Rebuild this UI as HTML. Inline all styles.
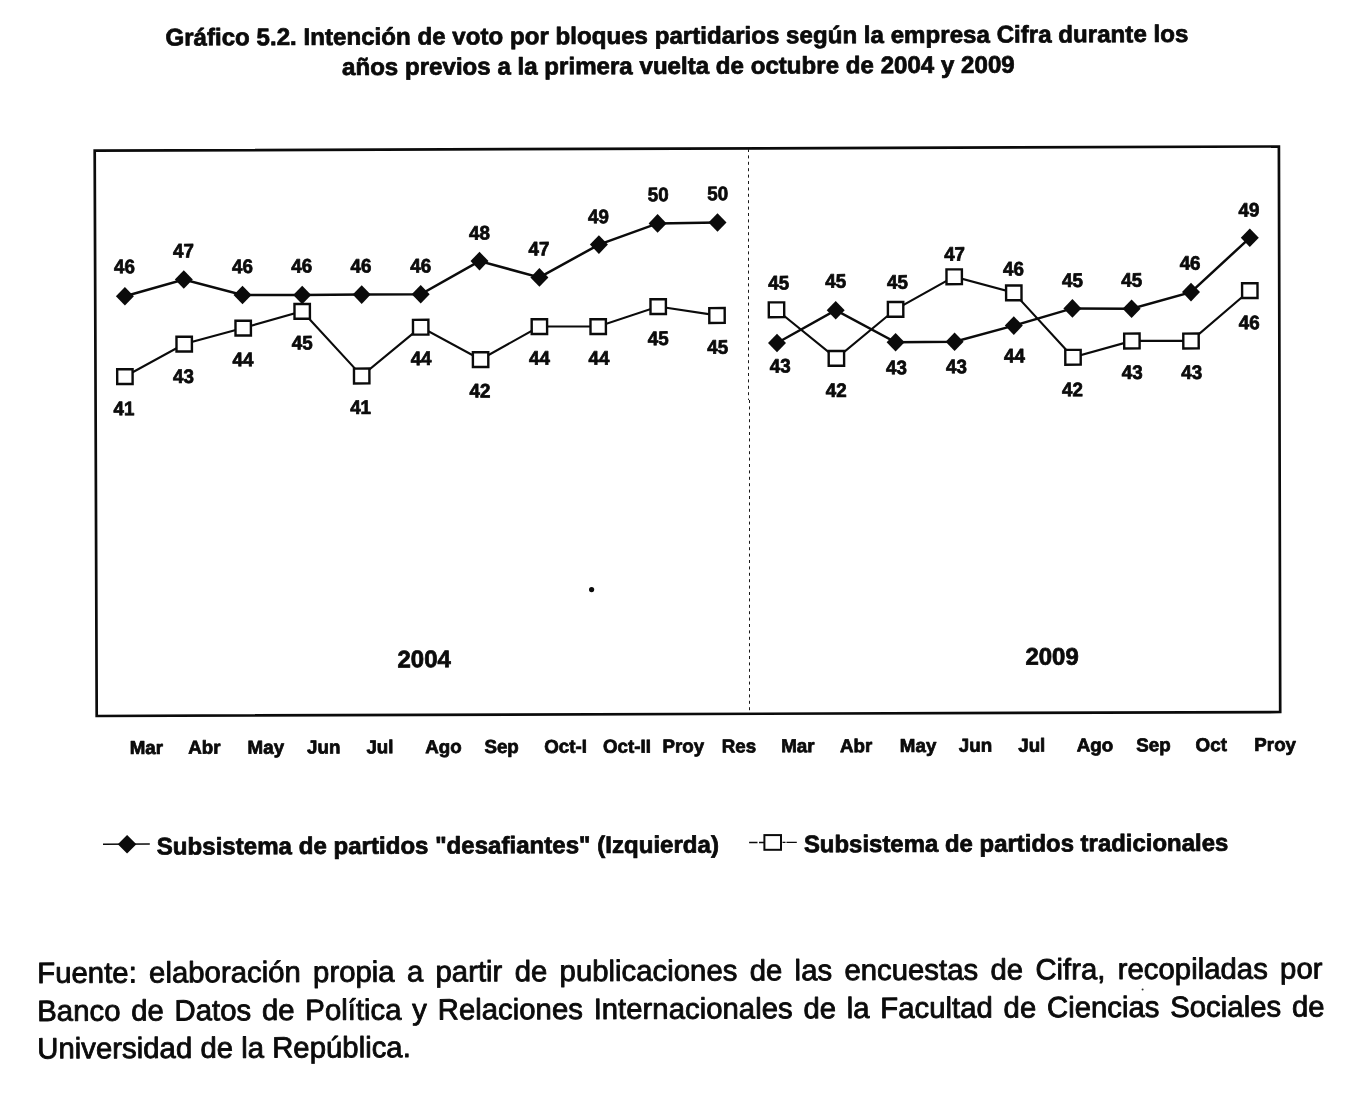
<!DOCTYPE html>
<html lang="es"><head><meta charset="utf-8"><title>Gráfico 5.2</title>
<style>
html,body{margin:0;padding:0;background:#fff}
svg{display:block}
text{font-family:"Liberation Sans",Arial,Helvetica,sans-serif;fill:#0b0b0b}
.b{font-weight:bold;stroke:#0b0b0b;stroke-width:0.75px;stroke-linejoin:round}
.t{font-size:24px}.d{font-size:19.6px;text-anchor:middle}.a{font-size:18.8px}.y{font-size:24px;text-anchor:middle}.l{font-size:24px}
.f{font-size:29.35px;stroke:#0b0b0b;stroke-width:0.85px;stroke-linejoin:round}
</style></head><body>
<svg width="1347" height="1106" viewBox="0 0 1347 1106">
<rect width="1347" height="1106" fill="#fff"/>
<text class="b t" x="165.4" y="45.5" transform="rotate(-0.2 165.4 45.5)" textLength="1023" lengthAdjust="spacingAndGlyphs">Gráfico 5.2. Intención de voto por bloques partidarios según la empresa Cifra durante los</text>
<text class="b t" x="342.0" y="75.1" transform="rotate(-0.2 342.0 75.1)" textLength="672.7" lengthAdjust="spacingAndGlyphs">años previos a la primera vuelta de octubre de 2004 y 2009</text>
<polygon points="94.7,150.6 1278.9,146.5 1280.2,712.0 96.7,716.0" fill="none" stroke="#0b0b0b" stroke-width="2.7" stroke-linejoin="miter"/>
<line x1="748.5" y1="149" x2="748.5" y2="400" stroke="#1a1a1a" stroke-width="1" stroke-dasharray="3 3.4"/>
<line x1="749.5" y1="400" x2="749.5" y2="713" stroke="#1a1a1a" stroke-width="1" stroke-dasharray="3 3.4"/>
<polyline points="124.9,376.5 184.2,344.0 243.2,328.0 302.2,311.3 361.7,375.9 420.7,327.1 480.6,359.5 539.4,326.5 598.2,326.5 658.2,306.5 717.0,315.4" fill="none" stroke="#0b0b0b" stroke-width="2.1"/>
<polyline points="776.5,309.7 836.4,358.3 895.6,309.3 954.2,276.7 1013.8,292.8 1073.0,357.2 1131.9,340.9 1191.0,340.9 1249.8,290.5" fill="none" stroke="#0b0b0b" stroke-width="2.1"/>
<polyline points="124.9,296.2 183.8,279.5 242.5,295.0 302.2,295.0 361.7,294.6 420.7,294.3 479.5,261.1 539.4,277.4 598.9,244.6 657.6,223.4 717.5,222.5" fill="none" stroke="#0b0b0b" stroke-width="2.5"/>
<polyline points="777.0,343.0 835.7,310.2 895.6,342.3 954.6,341.8 1013.8,325.6 1072.4,308.4 1131.6,308.7 1191.0,292.1 1249.8,237.8" fill="none" stroke="#0b0b0b" stroke-width="2.5"/>
<rect x="117.2" y="369.2" width="15.4" height="14.8" fill="#fff" stroke="#0b0b0b" stroke-width="2.4" transform="rotate(-0.2 124.9 376.5)"/>
<rect x="176.5" y="336.7" width="15.4" height="14.8" fill="#fff" stroke="#0b0b0b" stroke-width="2.4" transform="rotate(-0.2 184.2 344.0)"/>
<rect x="235.5" y="320.7" width="15.4" height="14.8" fill="#fff" stroke="#0b0b0b" stroke-width="2.4" transform="rotate(-0.2 243.2 328.0)"/>
<rect x="294.5" y="304.0" width="15.4" height="14.8" fill="#fff" stroke="#0b0b0b" stroke-width="2.4" transform="rotate(-0.2 302.2 311.3)"/>
<rect x="354.0" y="368.6" width="15.4" height="14.8" fill="#fff" stroke="#0b0b0b" stroke-width="2.4" transform="rotate(-0.2 361.7 375.9)"/>
<rect x="413.0" y="319.8" width="15.4" height="14.8" fill="#fff" stroke="#0b0b0b" stroke-width="2.4" transform="rotate(-0.2 420.7 327.1)"/>
<rect x="472.9" y="352.2" width="15.4" height="14.8" fill="#fff" stroke="#0b0b0b" stroke-width="2.4" transform="rotate(-0.2 480.6 359.5)"/>
<rect x="531.7" y="319.2" width="15.4" height="14.8" fill="#fff" stroke="#0b0b0b" stroke-width="2.4" transform="rotate(-0.2 539.4 326.5)"/>
<rect x="590.5" y="319.2" width="15.4" height="14.8" fill="#fff" stroke="#0b0b0b" stroke-width="2.4" transform="rotate(-0.2 598.2 326.5)"/>
<rect x="650.5" y="299.2" width="15.4" height="14.8" fill="#fff" stroke="#0b0b0b" stroke-width="2.4" transform="rotate(-0.2 658.2 306.5)"/>
<rect x="709.3" y="308.1" width="15.4" height="14.8" fill="#fff" stroke="#0b0b0b" stroke-width="2.4" transform="rotate(-0.2 717.0 315.4)"/>
<rect x="768.8" y="302.4" width="15.4" height="14.8" fill="#fff" stroke="#0b0b0b" stroke-width="2.4" transform="rotate(-0.2 776.5 309.7)"/>
<rect x="828.7" y="351.0" width="15.4" height="14.8" fill="#fff" stroke="#0b0b0b" stroke-width="2.4" transform="rotate(-0.2 836.4 358.3)"/>
<rect x="887.9" y="302.0" width="15.4" height="14.8" fill="#fff" stroke="#0b0b0b" stroke-width="2.4" transform="rotate(-0.2 895.6 309.3)"/>
<rect x="946.5" y="269.4" width="15.4" height="14.8" fill="#fff" stroke="#0b0b0b" stroke-width="2.4" transform="rotate(-0.2 954.2 276.7)"/>
<rect x="1006.1" y="285.5" width="15.4" height="14.8" fill="#fff" stroke="#0b0b0b" stroke-width="2.4" transform="rotate(-0.2 1013.8 292.8)"/>
<rect x="1065.3" y="349.9" width="15.4" height="14.8" fill="#fff" stroke="#0b0b0b" stroke-width="2.4" transform="rotate(-0.2 1073.0 357.2)"/>
<rect x="1124.2" y="333.6" width="15.4" height="14.8" fill="#fff" stroke="#0b0b0b" stroke-width="2.4" transform="rotate(-0.2 1131.9 340.9)"/>
<rect x="1183.3" y="333.6" width="15.4" height="14.8" fill="#fff" stroke="#0b0b0b" stroke-width="2.4" transform="rotate(-0.2 1191.0 340.9)"/>
<rect x="1242.1" y="283.2" width="15.4" height="14.8" fill="#fff" stroke="#0b0b0b" stroke-width="2.4" transform="rotate(-0.2 1249.8 290.5)"/>
<polygon points="115.9,296.2 124.9,286.9 133.9,296.2 124.9,305.5" fill="#0b0b0b"/>
<polygon points="174.8,279.5 183.8,270.2 192.8,279.5 183.8,288.8" fill="#0b0b0b"/>
<polygon points="233.5,295.0 242.5,285.7 251.5,295.0 242.5,304.3" fill="#0b0b0b"/>
<polygon points="293.2,295.0 302.2,285.7 311.2,295.0 302.2,304.3" fill="#0b0b0b"/>
<polygon points="352.7,294.6 361.7,285.3 370.7,294.6 361.7,303.9" fill="#0b0b0b"/>
<polygon points="411.7,294.3 420.7,285.0 429.7,294.3 420.7,303.6" fill="#0b0b0b"/>
<polygon points="470.5,261.1 479.5,251.8 488.5,261.1 479.5,270.4" fill="#0b0b0b"/>
<polygon points="530.4,277.4 539.4,268.1 548.4,277.4 539.4,286.7" fill="#0b0b0b"/>
<polygon points="589.9,244.6 598.9,235.3 607.9,244.6 598.9,253.9" fill="#0b0b0b"/>
<polygon points="648.6,223.4 657.6,214.1 666.6,223.4 657.6,232.7" fill="#0b0b0b"/>
<polygon points="708.5,222.5 717.5,213.2 726.5,222.5 717.5,231.8" fill="#0b0b0b"/>
<polygon points="768.0,343.0 777.0,333.7 786.0,343.0 777.0,352.3" fill="#0b0b0b"/>
<polygon points="826.7,310.2 835.7,300.9 844.7,310.2 835.7,319.5" fill="#0b0b0b"/>
<polygon points="886.6,342.3 895.6,333.0 904.6,342.3 895.6,351.6" fill="#0b0b0b"/>
<polygon points="945.6,341.8 954.6,332.5 963.6,341.8 954.6,351.1" fill="#0b0b0b"/>
<polygon points="1004.8,325.6 1013.8,316.3 1022.8,325.6 1013.8,334.9" fill="#0b0b0b"/>
<polygon points="1063.4,308.4 1072.4,299.1 1081.4,308.4 1072.4,317.7" fill="#0b0b0b"/>
<polygon points="1122.6,308.7 1131.6,299.4 1140.6,308.7 1131.6,318.0" fill="#0b0b0b"/>
<polygon points="1182.0,292.1 1191.0,282.8 1200.0,292.1 1191.0,301.4" fill="#0b0b0b"/>
<polygon points="1240.8,237.8 1249.8,228.5 1258.8,237.8 1249.8,247.1" fill="#0b0b0b"/>
<text class="b d" x="124.5" y="273.3" transform="rotate(-0.2 124.5 273.3)" textLength="20.9" lengthAdjust="spacingAndGlyphs">46</text>
<text class="b d" x="183.5" y="257.5" transform="rotate(-0.2 183.5 257.5)" textLength="20.9" lengthAdjust="spacingAndGlyphs">47</text>
<text class="b d" x="242.5" y="273.1" transform="rotate(-0.2 242.5 273.1)" textLength="20.9" lengthAdjust="spacingAndGlyphs">46</text>
<text class="b d" x="301.8" y="272.6" transform="rotate(-0.2 301.8 272.6)" textLength="20.9" lengthAdjust="spacingAndGlyphs">46</text>
<text class="b d" x="361.0" y="272.6" transform="rotate(-0.2 361.0 272.6)" textLength="20.9" lengthAdjust="spacingAndGlyphs">46</text>
<text class="b d" x="420.7" y="272.4" transform="rotate(-0.2 420.7 272.4)" textLength="20.9" lengthAdjust="spacingAndGlyphs">46</text>
<text class="b d" x="479.5" y="239.6" transform="rotate(-0.2 479.5 239.6)" textLength="20.9" lengthAdjust="spacingAndGlyphs">48</text>
<text class="b d" x="539.0" y="255.5" transform="rotate(-0.2 539.0 255.5)" textLength="20.9" lengthAdjust="spacingAndGlyphs">47</text>
<text class="b d" x="598.4" y="223.3" transform="rotate(-0.2 598.4 223.3)" textLength="20.9" lengthAdjust="spacingAndGlyphs">49</text>
<text class="b d" x="658.2" y="201.3" transform="rotate(-0.2 658.2 201.3)" textLength="20.9" lengthAdjust="spacingAndGlyphs">50</text>
<text class="b d" x="717.7" y="200.3" transform="rotate(-0.2 717.7 200.3)" textLength="20.9" lengthAdjust="spacingAndGlyphs">50</text>
<text class="b d" x="124.0" y="415.2" transform="rotate(-0.2 124.0 415.2)" textLength="20.9" lengthAdjust="spacingAndGlyphs">41</text>
<text class="b d" x="183.5" y="382.9" transform="rotate(-0.2 183.5 382.9)" textLength="20.9" lengthAdjust="spacingAndGlyphs">43</text>
<text class="b d" x="243.0" y="366.2" transform="rotate(-0.2 243.0 366.2)" textLength="20.9" lengthAdjust="spacingAndGlyphs">44</text>
<text class="b d" x="302.2" y="349.5" transform="rotate(-0.2 302.2 349.5)" textLength="20.9" lengthAdjust="spacingAndGlyphs">45</text>
<text class="b d" x="360.6" y="414.0" transform="rotate(-0.2 360.6 414.0)" textLength="20.9" lengthAdjust="spacingAndGlyphs">41</text>
<text class="b d" x="421.1" y="365.1" transform="rotate(-0.2 421.1 365.1)" textLength="20.9" lengthAdjust="spacingAndGlyphs">44</text>
<text class="b d" x="479.9" y="397.4" transform="rotate(-0.2 479.9 397.4)" textLength="20.9" lengthAdjust="spacingAndGlyphs">42</text>
<text class="b d" x="539.4" y="364.7" transform="rotate(-0.2 539.4 364.7)" textLength="20.9" lengthAdjust="spacingAndGlyphs">44</text>
<text class="b d" x="598.9" y="364.7" transform="rotate(-0.2 598.9 364.7)" textLength="20.9" lengthAdjust="spacingAndGlyphs">44</text>
<text class="b d" x="658.2" y="345.1" transform="rotate(-0.2 658.2 345.1)" textLength="20.9" lengthAdjust="spacingAndGlyphs">45</text>
<text class="b d" x="717.7" y="353.8" transform="rotate(-0.2 717.7 353.8)" textLength="20.9" lengthAdjust="spacingAndGlyphs">45</text>
<text class="b d" x="778.8" y="289.4" transform="rotate(-0.2 778.8 289.4)" textLength="20.9" lengthAdjust="spacingAndGlyphs">45</text>
<text class="b d" x="780.3" y="372.6" transform="rotate(-0.2 780.3 372.6)" textLength="20.9" lengthAdjust="spacingAndGlyphs">43</text>
<text class="b d" x="835.7" y="287.8" transform="rotate(-0.2 835.7 287.8)" textLength="20.9" lengthAdjust="spacingAndGlyphs">45</text>
<text class="b d" x="836.2" y="397.0" transform="rotate(-0.2 836.2 397.0)" textLength="20.9" lengthAdjust="spacingAndGlyphs">42</text>
<text class="b d" x="897.4" y="288.7" transform="rotate(-0.2 897.4 288.7)" textLength="20.9" lengthAdjust="spacingAndGlyphs">45</text>
<text class="b d" x="896.4" y="374.2" transform="rotate(-0.2 896.4 374.2)" textLength="20.9" lengthAdjust="spacingAndGlyphs">43</text>
<text class="b d" x="954.6" y="260.7" transform="rotate(-0.2 954.6 260.7)" textLength="20.9" lengthAdjust="spacingAndGlyphs">47</text>
<text class="b d" x="956.4" y="373.2" transform="rotate(-0.2 956.4 373.2)" textLength="20.9" lengthAdjust="spacingAndGlyphs">43</text>
<text class="b d" x="1013.4" y="275.4" transform="rotate(-0.2 1013.4 275.4)" textLength="20.9" lengthAdjust="spacingAndGlyphs">46</text>
<text class="b d" x="1014.5" y="362.4" transform="rotate(-0.2 1014.5 362.4)" textLength="20.9" lengthAdjust="spacingAndGlyphs">44</text>
<text class="b d" x="1072.5" y="286.9" transform="rotate(-0.2 1072.5 286.9)" textLength="20.9" lengthAdjust="spacingAndGlyphs">45</text>
<text class="b d" x="1072.5" y="396.3" transform="rotate(-0.2 1072.5 396.3)" textLength="20.9" lengthAdjust="spacingAndGlyphs">42</text>
<text class="b d" x="1131.7" y="286.7" transform="rotate(-0.2 1131.7 286.7)" textLength="20.9" lengthAdjust="spacingAndGlyphs">45</text>
<text class="b d" x="1132.3" y="378.9" transform="rotate(-0.2 1132.3 378.9)" textLength="20.9" lengthAdjust="spacingAndGlyphs">43</text>
<text class="b d" x="1190.1" y="269.7" transform="rotate(-0.2 1190.1 269.7)" textLength="20.9" lengthAdjust="spacingAndGlyphs">46</text>
<text class="b d" x="1191.7" y="378.9" transform="rotate(-0.2 1191.7 378.9)" textLength="20.9" lengthAdjust="spacingAndGlyphs">43</text>
<text class="b d" x="1248.9" y="216.6" transform="rotate(-0.2 1248.9 216.6)" textLength="20.9" lengthAdjust="spacingAndGlyphs">49</text>
<text class="b d" x="1249.3" y="329.2" transform="rotate(-0.2 1249.3 329.2)" textLength="20.9" lengthAdjust="spacingAndGlyphs">46</text>
<text class="b a" x="129.7" y="754.0" transform="rotate(-0.2 129.7 754.0)">Mar</text>
<text class="b a" x="188.2" y="753.8" transform="rotate(-0.2 188.2 753.8)">Abr</text>
<text class="b a" x="247.6" y="753.7" transform="rotate(-0.2 247.6 753.7)">May</text>
<text class="b a" x="307.0" y="753.5" transform="rotate(-0.2 307.0 753.5)">Jun</text>
<text class="b a" x="366.4" y="753.4" transform="rotate(-0.2 366.4 753.4)">Jul</text>
<text class="b a" x="425.2" y="753.2" transform="rotate(-0.2 425.2 753.2)">Ago</text>
<text class="b a" x="484.4" y="753.1" transform="rotate(-0.2 484.4 753.1)">Sep</text>
<text class="b a" x="544.2" y="752.9" transform="rotate(-0.2 544.2 752.9)">Oct-I</text>
<text class="b a" x="603.0" y="752.8" transform="rotate(-0.2 603.0 752.8)">Oct-II</text>
<text class="b a" x="662.4" y="752.6" transform="rotate(-0.2 662.4 752.6)">Proy</text>
<text class="b a" x="721.8" y="752.5" transform="rotate(-0.2 721.8 752.5)">Res</text>
<text class="b a" x="781.2" y="752.3" transform="rotate(-0.2 781.2 752.3)">Mar</text>
<text class="b a" x="840.0" y="752.2" transform="rotate(-0.2 840.0 752.2)">Abr</text>
<text class="b a" x="899.8" y="752.0" transform="rotate(-0.2 899.8 752.0)">May</text>
<text class="b a" x="958.8" y="751.8" transform="rotate(-0.2 958.8 751.8)">Jun</text>
<text class="b a" x="1018.2" y="751.7" transform="rotate(-0.2 1018.2 751.7)">Jul</text>
<text class="b a" x="1076.8" y="751.5" transform="rotate(-0.2 1076.8 751.5)">Ago</text>
<text class="b a" x="1136.2" y="751.4" transform="rotate(-0.2 1136.2 751.4)">Sep</text>
<text class="b a" x="1195.6" y="751.2" transform="rotate(-0.2 1195.6 751.2)">Oct</text>
<text class="b a" x="1254.3" y="751.1" transform="rotate(-0.2 1254.3 751.1)">Proy</text>
<text class="b y" x="424.2" y="667.3" transform="rotate(-0.2 424.2 667.3)">2004</text>
<text class="b y" x="1052.1" y="664.7" transform="rotate(-0.2 1052.1 664.7)">2009</text>
<circle cx="591.6" cy="589.6" r="2.6" fill="#0b0b0b"/>
<line x1="103" y1="844.2" x2="149.8" y2="844.0" stroke="#0b0b0b" stroke-width="1.6"/>
<polygon points="117.8,844.2 127.1,835.0 136.4,844.2 127.1,853.5" fill="#0b0b0b"/>
<text class="b l" x="156.8" y="854.6" transform="rotate(-0.2 156.8 854.6)" textLength="562.2" lengthAdjust="spacingAndGlyphs">Subsistema de partidos "desafiantes" (Izquierda)</text>
<path d="M749.1 842.5H757.5M759 842.5H764M782.5 842.3H785.5M786.5 842.3H796.8" fill="none" stroke="#0b0b0b" stroke-width="1.3"/>
<rect x="764.4" y="835.1" width="16.6" height="14.7" fill="#fff" stroke="#0b0b0b" stroke-width="2"/>
<text class="b l" x="803.9" y="852.3" transform="rotate(-0.2 803.9 852.3)" textLength="424.4" lengthAdjust="spacingAndGlyphs">Subsistema de partidos tradicionales</text>
<text class="f" x="37.3" y="982.9" transform="rotate(-0.2 37.3 982.9)" style="word-spacing:4.13px">Fuente: elaboración propia a partir de publicaciones de las encuestas de Cifra, recopiladas por</text>
<text class="f" x="37.3" y="1020.9" transform="rotate(-0.2 37.3 1020.9)" style="word-spacing:2.58px">Banco de Datos de Política y Relaciones Internacionales de la Facultad de Ciencias Sociales de</text>
<text class="f" x="37.3" y="1058.4" transform="rotate(-0.2 37.3 1058.4)">Universidad de la República.</text>
<circle cx="1142.6" cy="989.4" r="1" fill="#333"/>
</svg></body></html>
